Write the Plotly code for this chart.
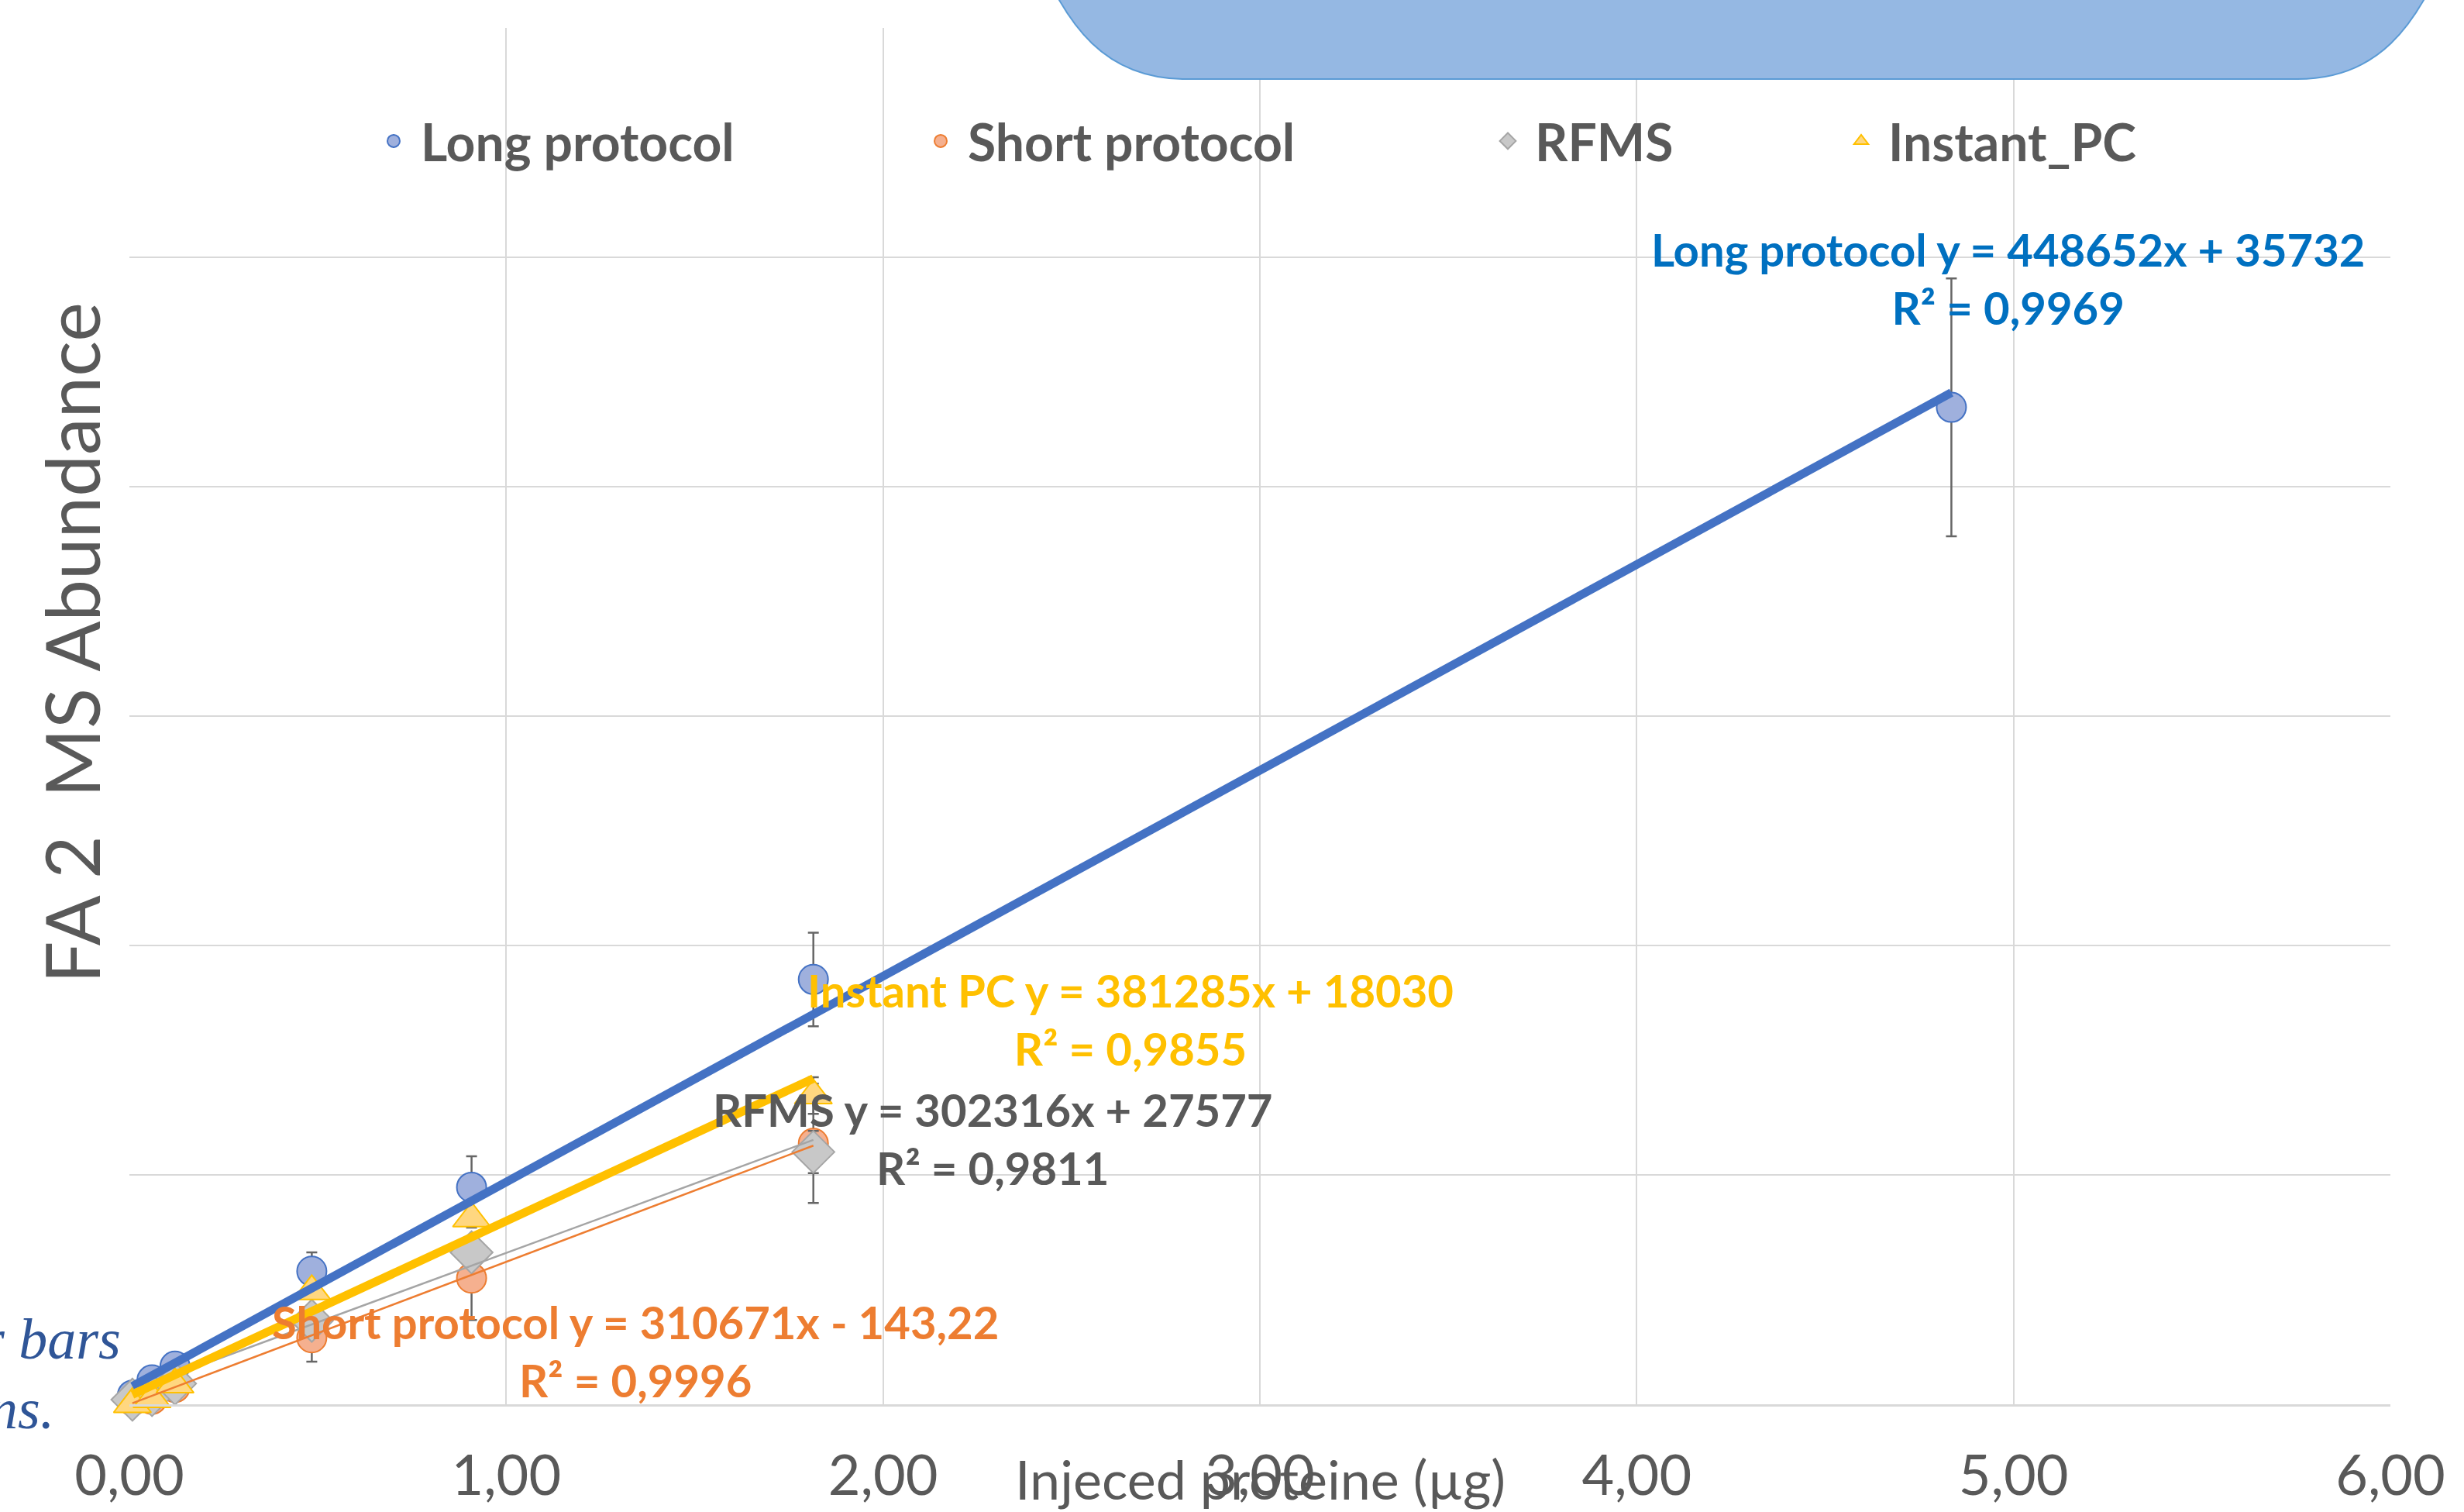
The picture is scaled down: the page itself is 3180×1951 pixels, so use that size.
import plotly.graph_objects as go

# ---------------- data ----------------
x_long = [0.008, 0.06, 0.121, 0.484, 0.908, 1.815, 4.835]
y_long = [20000, 53000, 83000, 290000, 473000, 926000, 2173000]
e_long = [8000, 10000, 12000, 41000, 67500, 102000, 281000]

x_short = [0.008, 0.06, 0.121, 0.484, 0.908, 1.815]
y_short = [8000, 11000, 36600, 145000, 275000, 568700]
e_short = [5000, 6000, 8000, 52000, 91500, 130000]

x_rfms = [0.008, 0.06, 0.121, 0.484, 0.908, 1.815]
y_rfms = [10000, 20000, 45000, 182000, 331000, 550000]
e_rfms = [5000, 6000, 8000, 15000, 20000, 46000]

x_inst = [0.008, 0.06, 0.121, 0.484, 0.908, 1.815]
y_inst = [0, 11000, 43000, 246000, 405000, 673000]
e_inst = [4000, 5000, 6000, 15000, 20000, 40000]

series_names = ["Long protocol", "Short protocol", "RFMS", "Instant_PC"]
trend_slope = [448652, 310671, 302316, 381285]
trend_intercept = [35732, -143.22, 27577, 18030]
eq_text = [
    "Long protocol y = 448652x + 35732<br>R² = 0,9969",
    "Short protocol y = 310671x - 143,22<br>R² = 0,9996",
    "RFMS y = 302316x + 27577<br>R² = 0,9811",
    "Instant PC y = 381285x + 18030<br>R² = 0,9855",
]
x_ticks = [0, 1, 2, 3, 4, 5, 6]

# ---------------- style ----------------
FONT = "Lato, Liberation Sans Narrow, sans-serif"
GRAY_TXT = "#595959"
GRID = "#d9d9d9"
ERR = "#666666"

W, H = 3180, 1951
ML, MR, MT, MB = 167, 95, 36, 139
PW, PH = W - ML - MR, H - MT - MB


def fx(px):
    return (px - ML) / PW


def fy(py):
    return (H - MB - py) / PH


fig = go.Figure()

marker_styles = [
    dict(symbol="circle", size=38, color="#9FB0DD", line=dict(color="#4472C4", width=2)),
    dict(symbol="circle", size=38, color="#F5B08F", line=dict(color="#ED7D31", width=2)),
    dict(symbol="diamond", size=42, color="#C8C8C8", line=dict(color="#A5A5A5", width=2)),
    dict(symbol="triangle-up", size=42, color="#FFD780", line=dict(color="#FFC000", width=2)),
]
data_sets = [
    (x_long, y_long, e_long),
    (x_short, y_short, e_short),
    (x_rfms, y_rfms, e_rfms),
    (x_inst, y_inst, e_inst),
]
legend_ids = ["legend", "legend2", "legend3", "legend4"]

for i, (xs, ys, es) in enumerate(data_sets):
    fig.add_trace(go.Scatter(
        x=xs, y=ys, mode="markers", name=series_names[i],
        marker=marker_styles[i],
        error_y=dict(type="data", array=es, visible=True, color=ERR, thickness=2.5, width=7),
        cliponaxis=False, legend=legend_ids[i],
    ))

trend_colors = ["#4472C4", "#ED7D31", "#A5A5A5", "#FFC000"]
trend_widths = [11, 2.5, 2.5, 11]
for i, (xs, ys, es) in enumerate(data_sets):
    x0, x1 = min(xs), max(xs)
    fig.add_trace(go.Scatter(
        x=[x0, x1],
        y=[trend_slope[i] * x0 + trend_intercept[i], trend_slope[i] * x1 + trend_intercept[i]],
        mode="lines", line=dict(color=trend_colors[i], width=trend_widths[i]),
        showlegend=False, hoverinfo="skip", cliponaxis=False,
    ))

# trendline equation labels
eq_colors = ["#0070C0", "#ED7D31", GRAY_TXT, "#FFC000"]
eq_pos = [(4.985, 2454000), (1.343, 116900), (2.292, 579700), (2.656, 839800)]
for i in range(4):
    fig.add_annotation(
        x=eq_pos[i][0], y=eq_pos[i][1], xref="x", yref="y", text="<b>" + eq_text[i] + "</b>",
        showarrow=False, xanchor="center", yanchor="middle", align="center",
        font=dict(family=FONT, size=58, color=eq_colors[i]),
    )

# axis titles
fig.add_annotation(
    x=0.5, y=fy(1908), xref="paper", yref="paper", text="Injeced proteine (µg)",
    showarrow=False, xanchor="center", yanchor="middle",
    font=dict(family=FONT, size=70, color=GRAY_TXT),
)
fig.add_annotation(
    x=fx(91), y=fy(830), xref="paper", yref="paper", text="FA 2  MS Abundance",
    textangle=-90, showarrow=False, xanchor="center", yanchor="middle",
    font=dict(family=FONT, size=96, color=GRAY_TXT),
)

# clipped italic text at left edge
fig.add_annotation(
    x=fx(158), y=fy(1728), xref="paper", yref="paper", text="<i>r bars</i>",
    showarrow=False, xanchor="right", yanchor="middle",
    font=dict(family="Liberation Serif, DejaVu Serif, serif", size=74, color="#2F5597"),
)
fig.add_annotation(
    x=fx(72), y=fy(1818), xref="paper", yref="paper", text="<i>ns.</i>",
    showarrow=False, xanchor="right", yanchor="middle",
    font=dict(family="Liberation Serif, DejaVu Serif, serif", size=74, color="#2F5597"),
)

# blue rounded box at top (cut by image edge)
pts = [(1330, -80), (1375, 40), (1430, 102), (1530, 102), (2965, 102),
       (3065, 102), (3120, 40), (3165, -80)]
p = [(fx(a), fy(b)) for a, b in pts]
path = (f"M {p[0][0]},{p[0][1]} C {p[1][0]},{p[1][1]} {p[2][0]},{p[2][1]} {p[3][0]},{p[3][1]} "
        f"L {p[4][0]},{p[4][1]} C {p[5][0]},{p[5][1]} {p[6][0]},{p[6][1]} {p[7][0]},{p[7][1]} Z")
fig.add_shape(type="path", path=path, xref="paper", yref="paper",
              fillcolor="#95B8E3", line=dict(color="#5B9BD5", width=2), layer="above")

# legends
leg_x = [fx(473), fx(1179), fx(1911), fx(2367)]
leg_common = dict(orientation="h", yanchor="middle", y=fy(182), xanchor="left",
                  bgcolor="rgba(0,0,0,0)", font=dict(family=FONT, size=66, color=GRAY_TXT, weight="bold"),
                  itemsizing="trace", itemwidth=60)

fig.update_layout(
    width=W, height=H,
    margin=dict(l=ML, r=MR, t=MT, b=MB, autoexpand=False),
    paper_bgcolor="white", plot_bgcolor="white",
    separators=", ",
    showlegend=True,
    legend=dict(x=leg_x[0], **leg_common),
    legend2=dict(x=leg_x[1], **leg_common),
    legend3=dict(x=leg_x[2], **leg_common),
    legend4=dict(x=leg_x[3], **leg_common),
    xaxis=dict(
        range=[0, 6], tickvals=x_ticks, tickformat=".2f", showgrid=True, gridcolor=GRID, gridwidth=2,
        zeroline=False, showline=True, linecolor=GRID, linewidth=3, ticks="",
        tickfont=dict(family=FONT, size=72, color=GRAY_TXT), ticklabelstandoff=28, automargin=False,
    ),
    yaxis=dict(
        range=[0, 3000000], dtick=500000, showgrid=True, gridcolor=GRID, gridwidth=2,
        zeroline=False, showline=False, showticklabels=False, ticks="", automargin=False,
    ),
)

fig.write_html("out.html")
